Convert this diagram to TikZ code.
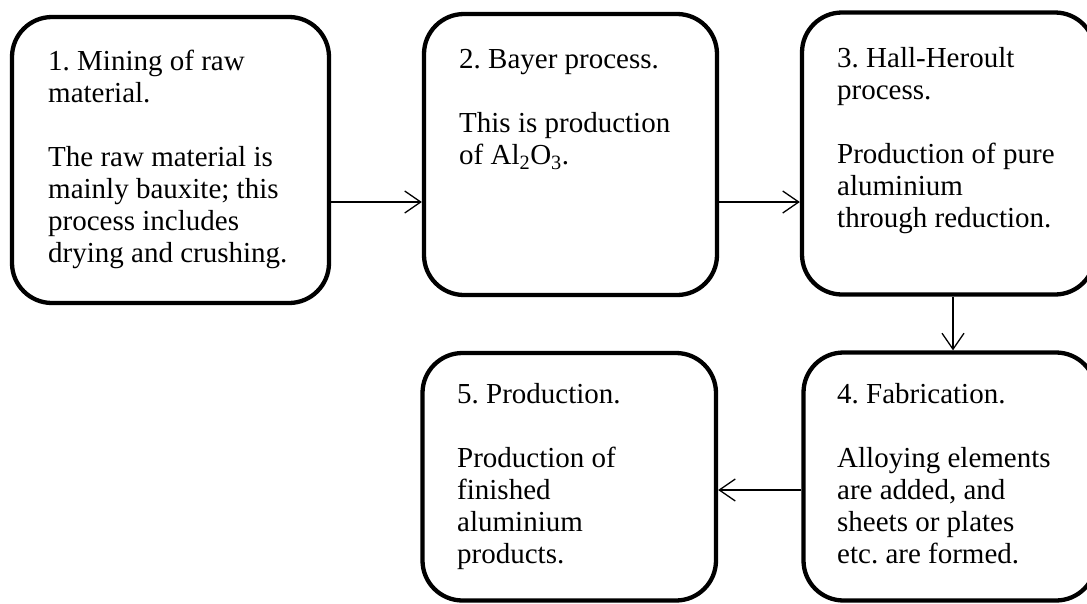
\documentclass[tikz,border=0pt]{standalone}
\usepackage{fontspec}
\setmainfont{Liberation Serif}
\frenchspacing
\usetikzlibrary{arrows.meta}
\begin{document}
\begin{tikzpicture}[x=1pt, y=-1pt,
  stepbox/.style={draw=black, line width=4.3pt, rounded corners=40pt, inner sep=0pt},
  blocktext/.style={anchor=north west, inner sep=0pt, align=left,
    font=\fontsize{29pt}{32pt}\selectfont},
  flow/.style={line width=1.3pt, -{Straight Barb[length=16pt, width=22pt]}}]
  \useasboundingbox (0,0) rectangle (1087,603);
  \fill[white] (0,0) rectangle (1087,603);

  % process boxes
  \node[stepbox, minimum width=317pt, minimum height=286pt]   (b1) at (170.5,160)   {};
  \node[stepbox, minimum width=293pt, minimum height=281pt]   (b2) at (570.5,154.5) {};
  \node[stepbox, minimum width=293pt, minimum height=282pt]   (b3) at (948.5,153.5) {};
  \node[stepbox, minimum width=292.5pt, minimum height=248pt] (b4) at (949.75,476.5) {};
  \node[stepbox, minimum width=293.5pt, minimum height=247.5pt] (b5) at (569.25,476.75) {};

  % box texts (top of each block = first baseline minus strut height)
  \node[blocktext] (t1) at (48,47.6) {\strut 1. Mining of raw\\ material.\\[32pt]
    The raw material is\\ mainly bauxite; this\\ process includes\\ drying and crushing.};
  \node[blocktext] (t2) at (459,45.6) {\strut 2. Bayer process.\\[32pt]
    This is production\\ of Al\textsubscript{2}O\textsubscript{3}.};
  \node[blocktext] (t3) at (837,44.6) {\strut 3. Hall-Heroult\\ process.\\[32pt]
    Production of pure\\ aluminium\\ through reduction.};
  \node[blocktext] (t4) at (837,380.6) {\strut 4. Fabrication.\\[32pt]
    Alloying elements\\ are added, and\\ sheets or plates\\ etc. are formed.};
  \node[blocktext] (t5) at (457,380.6) {\strut 5. Production.\\[32pt]
    Production of\\ finished\\ aluminium\\ products.};

  % connector levels
  \coordinate (row1) at (0,202);
  \coordinate (col3) at (953,0);
  \coordinate (row2) at (0,490);

  % connectors
  \draw[flow] (b1.east |- row1) -- (b2.west |- row1);
  \draw[flow] (b2.east |- row1) -- (b3.west |- row1);
  \draw[flow] (col3 |- b3.south) -- (col3 |- b4.north);
  \draw[flow] (b4.west |- row2) -- (b5.east |- row2);
\end{tikzpicture}
\end{document}
